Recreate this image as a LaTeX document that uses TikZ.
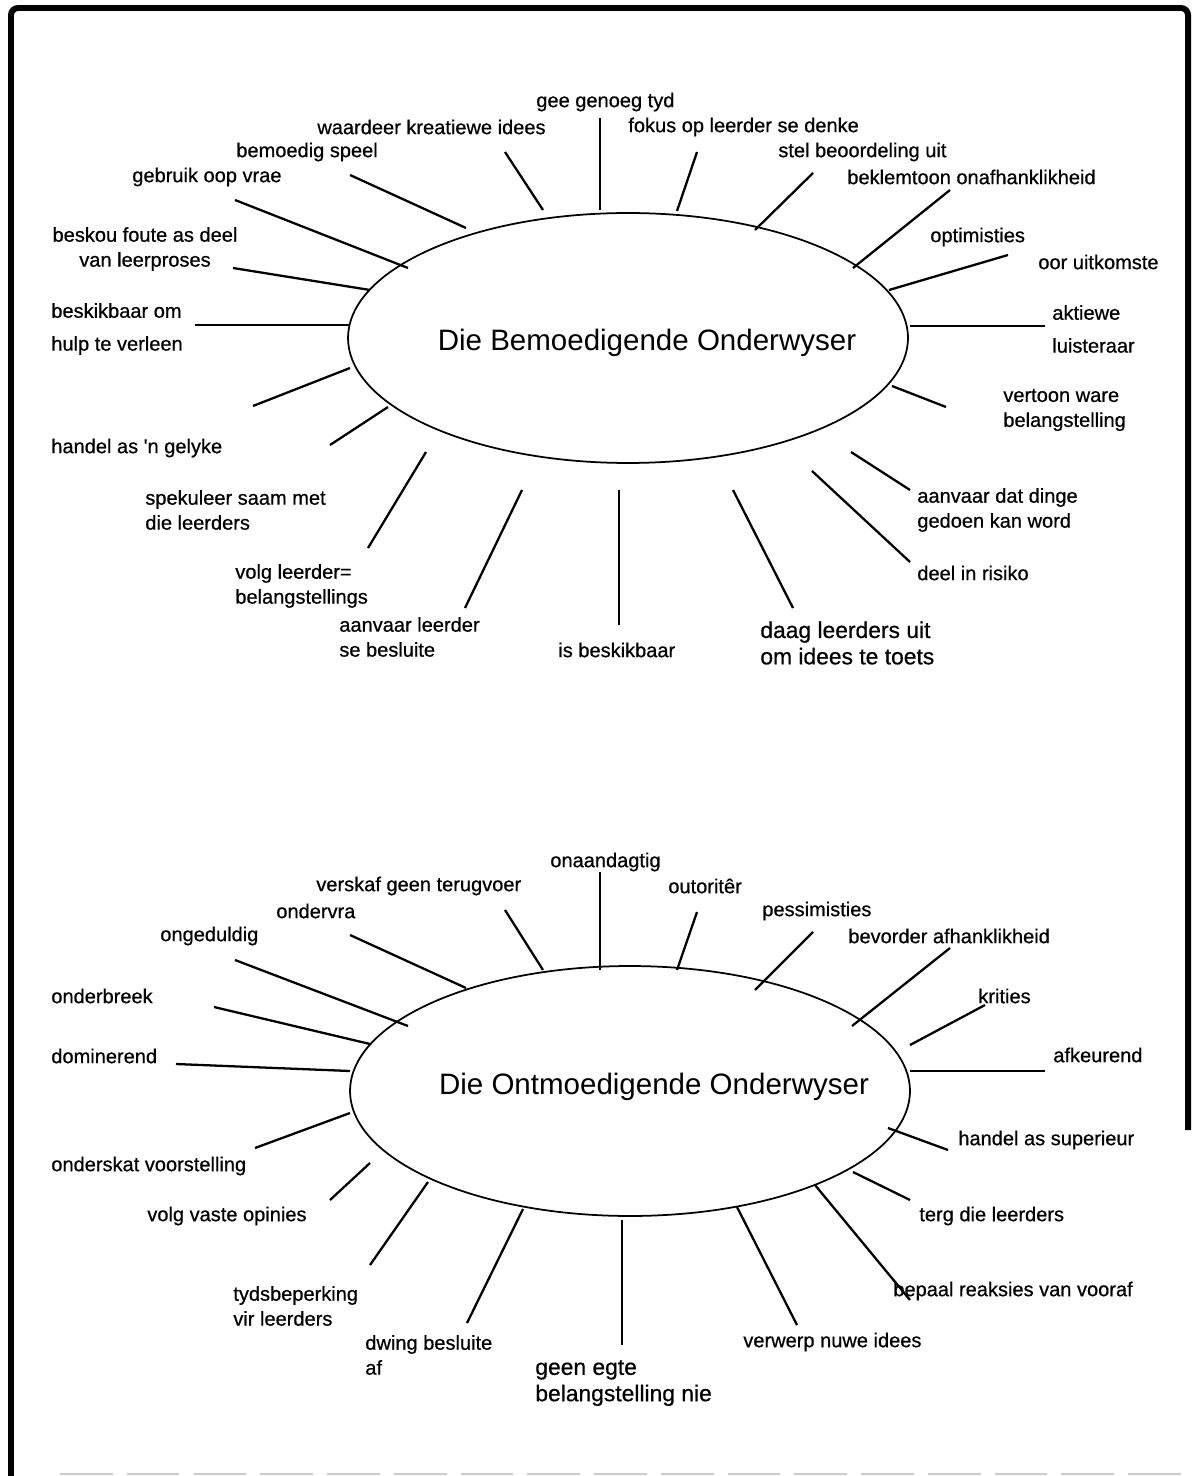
\documentclass[tikz,border=0pt]{standalone}
\usepackage{fontspec}
\setmainfont{Liberation Sans}
\newfontfamily\scanfont{Liberation Sans}[FakeBold=0.6]
\usetikzlibrary{shapes.geometric}

\tikzset{
    hub/.style={draw, ellipse, line width=1pt, inner sep=0pt,
        minimum width=11.2cm, minimum height=5cm},
    hubtext/.style={font=\fontsize{16.8}{20}\selectfont, inner sep=0pt},
    lbl/.style={font=\scanfont\fontsize{11.4}{14.2}\selectfont, inner sep=0pt,
        anchor=west, align=left},
    biglbl/.style={lbl, font=\scanfont\fontsize{13}{15}\selectfont},
    spoke/.style={line width=1.3pt},
    thinspoke/.style={line width=0.9pt},
}

\begin{document}
\begin{tikzpicture}[x=0.02cm, y=-0.02cm]
    \useasboundingbox (0,0) rectangle (1194,1476);

    % frame
    \draw[line width=3.4pt, rounded corners=4pt] (11,1476) -- (11,8) -- (1188,8) -- (1188,1130);
    \draw[gray!40, line width=0.8pt, dash pattern=on 30pt off 8pt] (60,1474) -- (1194,1474);

    % --- top ---
    \node[hub] (bemoed) at (628,338) {};
    \node[hubtext] (bemoedtxt) at (647,343) {Die Bemoedigende Onderwyser};

    \foreach \n/\x/\y/\txt in {tyd/536/102/gee genoeg tyd,
        kreatief/317/127/waardeer kreatiewe idees,
        speel/236/152/bemoedig speel,
        vrae/132/177/gebruik oop vrae,
        gelyk/51/448/handel as 'n gelyke,
        spekuleer/145/510/spekuleer saam met\\die leerders,
        volg/235/586/volg leerder=\\ belangstellings,
        besluit/339/637/aanvaar leerder\\se besluite,
        beskikbaar/558/650/is beskikbaar,
        risiko/917/573/deel in risiko,
        dinge/917/510/aanvaar dat dinge\\gedoen kan word,
        ware/1003/410/vertoon ware\\belangstelling,
        optimisties/930/237/optimisties,
        uitkomste/1038/262/oor uitkomste,
        onafh/847/177/beklemtoon onafhanklikheid,
        beoordeel/778/152/stel beoordeling uit,
        denke/628/127/fokus op leerder se denke}
    {
        \node[lbl] (\n) at (\x,\y) {\txt};
    }
    \node[lbl, anchor=center, align=center] (foute) at (145,249) {beskou foute as deel\\van leerproses};
    \node[lbl] (hulp) at (51,329) {beskikbaar om\\[4.5pt]hulp te verleen};
    \node[lbl] (luister) at (1052,329) {aktiewe\\[4.5pt]luisteraar};
    \node[biglbl] (toets) at (760,643) {daag leerders uit\\om idees te toets};

    \foreach \n/\a/\b/\c/\d in {1/543/210/505/152, 2/466/228/350/175,
        3/408/268/235/200, 4/370/290/233/268, 5/350/325/195/325,
        6/350/368/253/406, 7/388/407/330/445, 8/426/452/368/548,
        9/522/490/465/608, 10/733/490/793/608, 11/812/471/910/562,
        12/851/452/910/490, 13/892/386/946/407, 14/910/326/1045/326,
        15/889/290/1008/255, 16/853/268/950/190, 17/755/230/813/173,
        18/677/211/697/152}
    {
        \coordinate (ts\n) at (\a,\b);
        \coordinate (te\n) at (\c,\d);
        \draw[spoke] (ts\n) -- (te\n);
    }
    \coordinate (tvs) at (600,210);
    \coordinate (tve) at (600,118);
    \draw[thinspoke] (tvs) -- (tve);
    \coordinate (tws) at (619,490);
    \coordinate (twe) at (619,625);
    \draw[thinspoke] (tws) -- (twe);

    % --- bottom ---
    \node[hub] (ontmoed) at (630,1091) {};
    \node[hubtext] (ontmoedtxt) at (654,1087) {Die Ontmoedigende Onderwyser};

    \foreach \n/\x/\y/\txt in {onaandagtig/550/862/onaandagtig,
        terugvoer/316/886/verskaf geen terugvoer,
        ondervra/276/911/ondervra,
        ongeduldig/160/936/ongeduldig,
        onderbreek/51/996/onderbreek,
        dominerend/51/1056/dominerend,
        onderskat/51/1166/onderskat voorstelling,
        opinies/147/1216/volg vaste opinies,
        tydsbep/233/1306/tydsbeperking\\vir leerders,
        dwing/365/1355/dwing besluite\\af,
        verwerp/743/1342/verwerp nuwe idees,
        reaksies/893/1291/bepaal reaksies van vooraf,
        terg/919/1216/terg die leerders,
        superieur/958/1140/handel as superieur,
        afkeurend/1053/1055/afkeurend,
        krities/978/996/krities,
        afhanklik/848/936/bevorder afhanklikheid,
        pessimisties/762/911/pessimisties,
        outoritor/668/886/outoritêr}
    {
        \node[lbl] (\n) at (\x,\y) {\txt};
    }
    \node[biglbl] (egte) at (535,1383) {geen egte\\belangstelling nie};

    \foreach \n/\a/\b/\c/\d in {1/543/970/505/910, 2/466/988/350/935,
        3/408/1026/235/960, 4/370/1044/214/1007, 5/350/1071/176/1064,
        6/350/1113/255/1148, 7/370/1163/330/1200, 8/428/1182/370/1265,
        9/523/1209/467/1323, 10/737/1207/797/1325, 11/815/1185/910/1300,
        12/853/1172/910/1200, 13/888/1128/948/1150, 14/910/1071/1045/1071,
        15/910/1045/985/1005, 16/852/1026/950/948, 17/755/990/813/932,
        18/677/970/697/912}
    {
        \coordinate (bs\n) at (\a,\b);
        \coordinate (be\n) at (\c,\d);
        \draw[spoke] (bs\n) -- (be\n);
    }
    \coordinate (bvs) at (600,970);
    \coordinate (bve) at (600,872);
    \draw[thinspoke] (bvs) -- (bve);
    \coordinate (bws) at (622,1220);
    \coordinate (bwe) at (622,1345);
    \draw[thinspoke] (bws) -- (bwe);

\end{tikzpicture}
\end{document}
